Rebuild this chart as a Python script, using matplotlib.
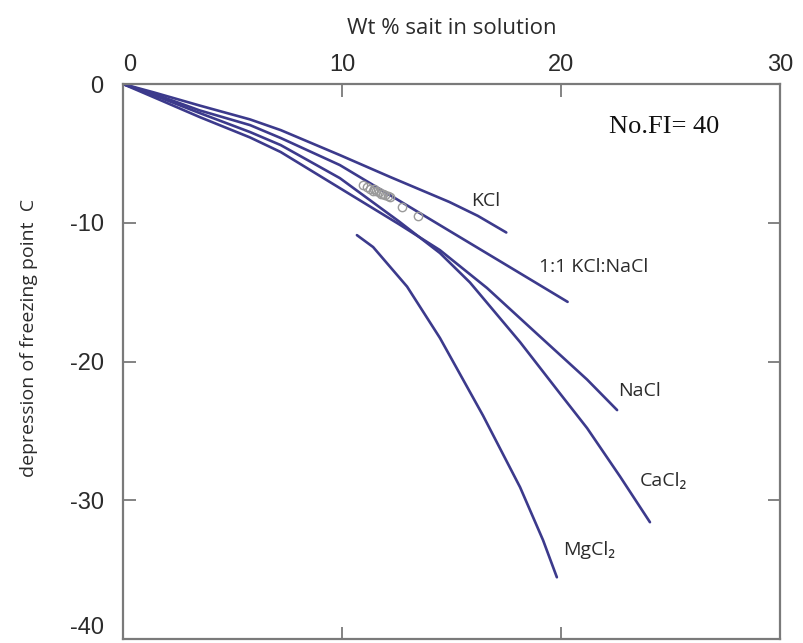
import matplotlib
matplotlib.use("Agg")
import matplotlib.pyplot as plt

plt.rcParams["axes.unicode_minus"] = False

# ----------------------------------------------------------------------
# freezing point curves (wt % salt, deg C)
# ----------------------------------------------------------------------
kcl_x = [0, 1.4, 3.5, 5.8, 7.2, 9.9, 12.2, 14.9, 16.2, 17.5]
kcl_y = [0, -0.6, -1.55, -2.55, -3.32, -5.12, -6.7, -8.5, -9.5, -10.7]

kna_x = [0, 1.4, 3.5, 5.8, 7.2, 9.9, 12.5, 15.07, 17.35, 20.3]
kna_y = [0, -0.7, -1.9, -2.96, -3.89, -5.84, -8.3, -10.74, -12.9, -15.7]

nacl_x = [0, 1.4, 3.5, 5.8, 7.2, 9.9, 12.6, 14.47, 16.62, 18.9, 21.19, 22.56]
nacl_y = [0, -0.95, -2.38, -3.85, -4.9, -7.5, -10.1, -11.97, -14.7, -18.0,
          -21.3, -23.5]

cacl_x = [0, 1.4, 3.5, 5.8, 7.2, 9.9, 12.6, 14.47, 15.84, 18.13, 19.95,
          21.19, 22.7, 24.06]
cacl_y = [0, -0.8, -2.09, -3.46, -4.4, -6.78, -9.9, -12.18, -14.3, -18.6,
          -22.3, -24.8, -28.3, -31.58]

mgcl_x = [10.68, 11.42, 12.97, 14.47, 16.44, 18.13, 19.18, 19.81]
mgcl_y = [-10.89, -11.75, -14.6, -18.3, -23.9, -29.06, -32.88, -35.55]

# fluid inclusions
fi_x = [10.96, 11.15, 11.3, 11.45, 11.55, 11.7, 11.85, 11.95, 12.1, 12.2,
        11.4, 11.8, 12.74, 13.47]
fi_y = [-7.28, -7.45, -7.55, -7.6, -7.7, -7.8, -7.9, -8.0, -8.05, -8.15,
        -7.7, -7.95, -8.87, -9.52]

x_ticks = [0, 10, 20, 30]
y_ticks = [0, -10, -20, -30, -40]

# ----------------------------------------------------------------------
line_col = "#3c3a8c"
grey = "#7a7a7a"
txt = "#2b2b2b"

fig = plt.figure(figsize=(8.04, 6.43), dpi=100)
ax = fig.add_axes([0.153, 0.0062, 0.8172, 0.8631])

for xs, ys in [(kcl_x, kcl_y), (kna_x, kna_y), (nacl_x, nacl_y),
               (cacl_x, cacl_y), (mgcl_x, mgcl_y)]:
    ax.plot(xs, ys, color=line_col, lw=1.9, solid_capstyle="round",
            solid_joinstyle="round")

ax.plot(fi_x, fi_y, "o", ms=6, mfc="none", mec="#9a9a9a", mew=1.0)

ax.set_xlim(0, 30)
ax.set_ylim(-40, 0)
ax.set_xticks(x_ticks)
ax.set_yticks(y_ticks)
ax.xaxis.tick_top()
ax.xaxis.set_label_position("top")
ax.tick_params(axis="both", direction="in", length=9, width=1.3, color=grey,
               labelsize=17, labelcolor=txt, top=True, bottom=True,
               left=True, right=True)
ax.tick_params(axis="x", pad=6)
ax.tick_params(axis="y", pad=14)
for lab in ax.get_xticklabels() + ax.get_yticklabels():
    lab.set_family("Liberation Sans")
ax.get_xticklabels()[0].set_ha("left")
ax.get_yticklabels()[-1].set_va("bottom")

for s in ax.spines.values():
    s.set_color(grey)
    s.set_linewidth(1.6)

ax.set_xlabel("Wt % sait in solution", fontsize=16, color=txt,
              family=["Open Sans", "DejaVu Sans"], labelpad=14)
ax.set_ylabel("depression of freezing point  C", fontsize=14, color=txt,
              family=["Liberation Sans Narrow", "Open Sans"])
ax.yaxis.set_label_coords(-0.13, 0.542)

lab_font = dict(fontsize=14, color=txt, family=["Open Sans", "DejaVu Sans"],
                va="center", ha="left")
ax.text(15.9, -8.4, "KCl", **lab_font)
ax.text(19.0, -13.2, "1:1 KCl:NaCl", **lab_font)
ax.text(22.6, -22.1, "NaCl", **lab_font)
ax.text(23.6, -28.6, "CaCl\u2082", **lab_font)
ax.text(20.1, -33.6, "MgCl\u2082", **lab_font)

ax.text(22.2, -3.1, "No.FI= 40", fontsize=19, color="#111111",
        family="Liberation Serif", va="center", ha="left")

fig.savefig("out.png", dpi=100)
